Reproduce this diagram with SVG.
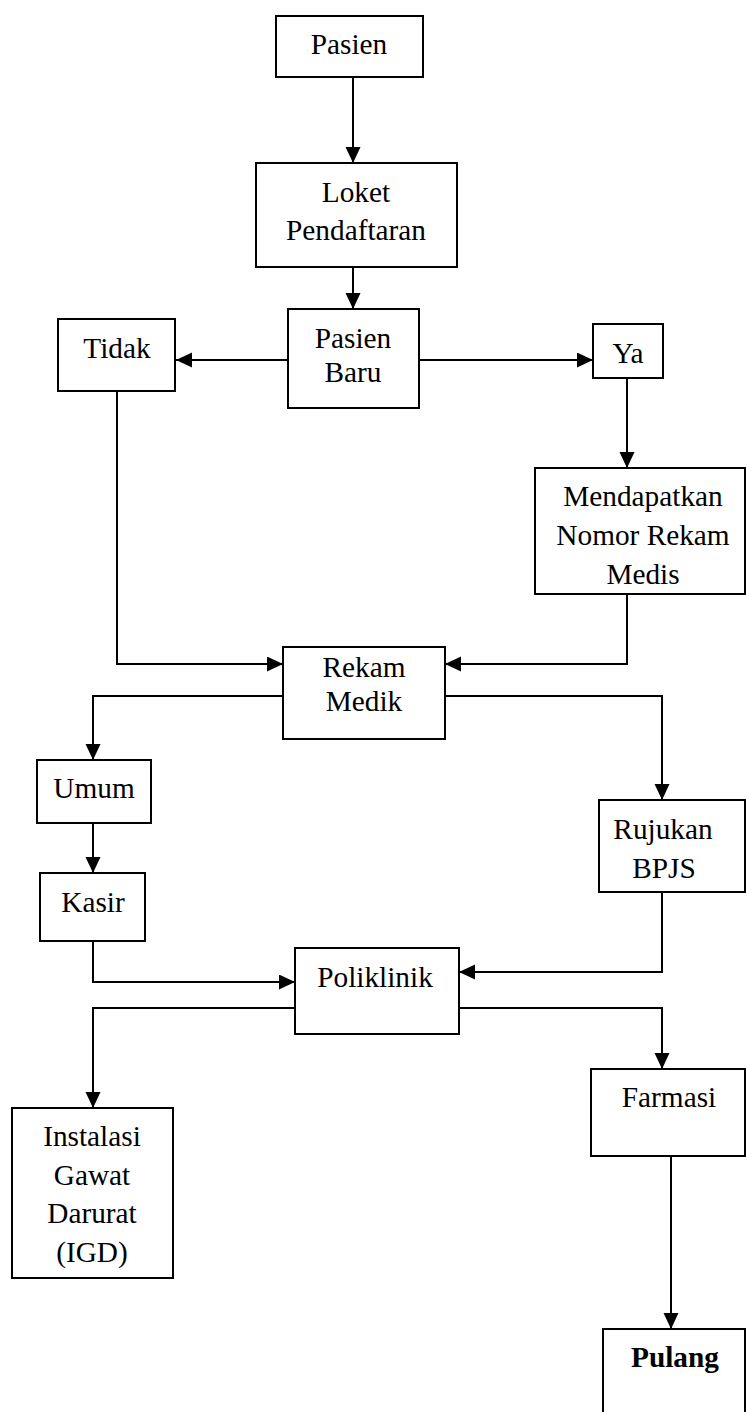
<svg xmlns="http://www.w3.org/2000/svg" width="746" height="1412" viewBox="0 0 746 1412">
<style>
.box{fill:#fff;stroke:#000;stroke-width:2}
.t{font-family:"Liberation Serif","Times New Roman",serif;font-size:29.3px;fill:#000;text-anchor:middle}
.b{font-weight:bold}
.c{fill:none;stroke:#000;stroke-width:2}
</style>
<defs>
<marker id="ah" markerUnits="userSpaceOnUse" markerWidth="17" markerHeight="16" refX="16" refY="7.5" orient="auto">
<path d="M0,0 L16,7.5 L0,15 z" fill="#000"/>
</marker>
</defs>
<rect width="746" height="1412" fill="#fff"/>
<g id="connectors">
<path class="c" d="M353,77 V163" marker-end="url(#ah)"/>
<path class="c" d="M353,267 V309" marker-end="url(#ah)"/>
<path class="c" d="M288,360 H176" marker-end="url(#ah)"/>
<path class="c" d="M419,360 H593" marker-end="url(#ah)"/>
<path class="c" d="M627,378 V468" marker-end="url(#ah)"/>
<path class="c" d="M117,391 V664 H283" marker-end="url(#ah)"/>
<path class="c" d="M627,594 V664 H445" marker-end="url(#ah)"/>
<path class="c" d="M283,696 H93 V760" marker-end="url(#ah)"/>
<path class="c" d="M445,696 H662 V800" marker-end="url(#ah)"/>
<path class="c" d="M93,823 V873" marker-end="url(#ah)"/>
<path class="c" d="M93,941 V982 H295" marker-end="url(#ah)"/>
<path class="c" d="M662,892 V972 H459" marker-end="url(#ah)"/>
<path class="c" d="M295,1008 H93 V1108" marker-end="url(#ah)"/>
<path class="c" d="M459,1008 H662 V1069" marker-end="url(#ah)"/>
<path class="c" d="M671,1156 V1329" marker-end="url(#ah)"/>
</g>
<g id="pasien"><rect class="box" x="276" y="16" width="147" height="61"/><text class="t" x="349" y="54">Pasien</text></g>
<g id="loket"><rect class="box" x="256" y="163" width="201" height="104"/><text class="t" x="356" y="202">Loket</text><text class="t" x="356" y="240">Pendaftaran</text></g>
<g id="pasien-baru"><rect class="box" x="288" y="309" width="131" height="99"/><text class="t" x="353" y="348">Pasien</text><text class="t" x="353" y="382">Baru</text></g>
<g id="tidak"><rect class="box" x="58" y="319" width="117" height="72"/><text class="t" x="117" y="358">Tidak</text></g>
<g id="ya"><rect class="box" x="593" y="324" width="70" height="54"/><text class="t" x="628" y="363">Ya</text></g>
<g id="mendapatkan"><rect class="box" x="535" y="468" width="210" height="126"/><text class="t" x="643" y="506">Mendapatkan</text><text class="t" x="643" y="545">Nomor Rekam</text><text class="t" x="643" y="584">Medis</text></g>
<g id="rekam-medik"><rect class="box" x="283" y="647" width="162" height="92"/><text class="t" x="364" y="677">Rekam</text><text class="t" x="364" y="711">Medik</text></g>
<g id="umum"><rect class="box" x="37" y="760" width="114" height="63"/><text class="t" x="94" y="798">Umum</text></g>
<g id="kasir"><rect class="box" x="40" y="873" width="105" height="68"/><text class="t" x="93" y="912">Kasir</text></g>
<g id="rujukan"><rect class="box" x="599" y="800" width="146" height="92"/><text class="t" x="663" y="839">Rujukan</text><text class="t" x="664" y="878">BPJS</text></g>
<g id="poliklinik"><rect class="box" x="295" y="948" width="164" height="86"/><text class="t" x="375" y="987">Poliklinik</text></g>
<g id="igd"><rect class="box" x="12" y="1108" width="161" height="170"/><text class="t" x="92" y="1146">Instalasi</text><text class="t" x="92" y="1185">Gawat</text><text class="t" x="92" y="1223">Darurat</text><text class="t" x="92" y="1262">(IGD)</text></g>
<g id="farmasi"><rect class="box" x="591" y="1069" width="154" height="87"/><text class="t" x="669" y="1107">Farmasi</text></g>
<g id="pulang"><rect class="box" x="603" y="1329" width="142" height="100"/><text class="t b" x="675" y="1367">Pulang</text></g>
</svg>
